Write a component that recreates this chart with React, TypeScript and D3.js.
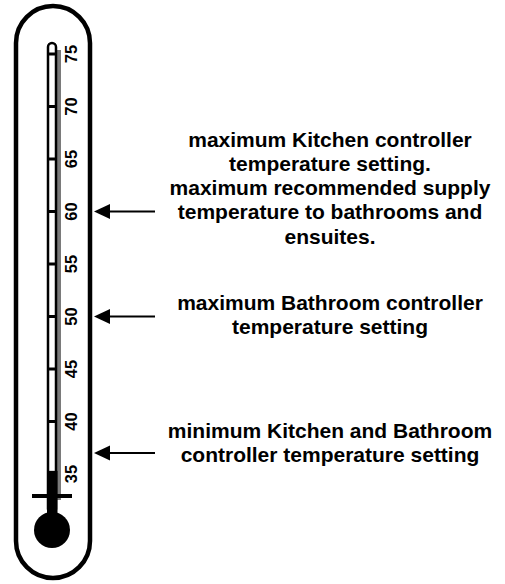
import { useEffect, useRef } from "react";
import * as d3 from "d3";

// scale ticks (°C) shown up the thermometer
const tickValues = [40, 45, 50, 55, 60, 65, 70, 75];
const labelValues = [35, 40, 45, 50, 55, 60, 65, 70, 75];
// where the mercury column stops
const mercuryLevel = 35.3;
// settings pointed at by the arrows
const markerValues = [60, 50, 37];
const markerLabels = [
  [
    "maximum Kitchen controller",
    "temperature setting.",
    "maximum recommended supply",
    "temperature to bathrooms and",
    "ensuites.",
  ],
  ["maximum Bathroom controller", "temperature setting"],
  ["minimum Kitchen and Bathroom", "controller temperature setting"],
];

export default function App() {
  const ref = useRef<SVGSVGElement | null>(null);

  useEffect(() => {
    const width = 505;
    const height = 584;
    const svg = d3.select(ref.current);
    svg.selectAll("*").remove();

    const y = d3.scaleLinear().domain([35, 75]).range([474, 54]);
    const tubeX = 52; // centre of the glass column
    const font = "'Liberation Sans', Arial, Helvetica, sans-serif";

    svg.append("rect").attr("width", width).attr("height", height).attr("fill", "#fff");

    // outer case
    svg.append("rect")
      .attr("x", 16).attr("y", 6)
      .attr("width", 74).attr("height", 572)
      .attr("rx", 37).attr("ry", 37)
      .attr("fill", "none")
      .attr("stroke", "#000")
      .attr("stroke-width", 4.5);

    // grey shadow next to the column
    svg.append("rect")
      .attr("x", tubeX + 5).attr("y", 50)
      .attr("width", 4).attr("height", 450)
      .attr("fill", "#7a7a7a");

    // glass column
    svg.append("rect")
      .attr("x", tubeX - 4).attr("y", 43)
      .attr("width", 8).attr("height", 470)
      .attr("rx", 4).attr("ry", 4)
      .attr("fill", "#fff")
      .attr("stroke", "#000")
      .attr("stroke-width", 2.5);

    // ticks across the column
    svg.append("g")
      .selectAll("line")
      .data(tickValues)
      .join("line")
      .attr("x1", tubeX - 5).attr("x2", tubeX + 5)
      .attr("y1", d => y(d)).attr("y2", d => y(d))
      .attr("stroke", "#000")
      .attr("stroke-width", 3);

    // mercury
    svg.append("rect")
      .attr("x", tubeX - 5).attr("y", y(mercuryLevel))
      .attr("width", 10.5).attr("height", 530 - y(mercuryLevel))
      .attr("fill", "#000");

    // cross bar and bulb
    svg.append("line")
      .attr("x1", 32).attr("x2", 72)
      .attr("y1", 496).attr("y2", 496)
      .attr("stroke", "#000").attr("stroke-width", 4);
    svg.append("circle")
      .attr("cx", tubeX).attr("cy", 530).attr("r", 18)
      .attr("fill", "#000");

    // rotated scale numbers
    svg.append("g")
      .selectAll("text")
      .data(labelValues)
      .join("text")
      .attr("transform", d => `translate(77,${y(d)}) rotate(-90)`)
      .attr("text-anchor", "middle")
      .attr("font-family", font)
      .attr("font-weight", "bold")
      .attr("font-size", 16.5)
      .attr("fill", "#000")
      .text(d => d);

    // arrows
    const arrows = svg.append("g");
    markerValues.forEach(v => {
      const ay = y(v);
      arrows.append("line")
        .attr("x1", 108).attr("x2", 155)
        .attr("y1", ay).attr("y2", ay)
        .attr("stroke", "#000").attr("stroke-width", 2);
      arrows.append("path")
        .attr("d", `M94,${ay} L110,${ay - 7.5} L110,${ay + 7.5} Z`)
        .attr("fill", "#000");
    });

    // annotation text blocks
    const firstBaseline = [-65, -7, -15];
    const lineHeight = 24.3;
    markerLabels.forEach((lines, i) => {
      const t = svg.append("text")
        .attr("text-anchor", "middle")
        .attr("font-family", font)
        .attr("font-weight", "bold")
        .attr("font-size", 21)
        .attr("fill", "#000");
      lines.forEach((line, j) => {
        t.append("tspan")
          .attr("x", 330)
          .attr("y", y(markerValues[i]) + firstBaseline[i] + j * lineHeight)
          .text(line);
      });
    });
  }, []);

  return (
    <svg
      ref={ref}
      width={505}
      height={584}
      style={{ position: "absolute", left: 0, top: 0, display: "block" }}
    />
  );
}
